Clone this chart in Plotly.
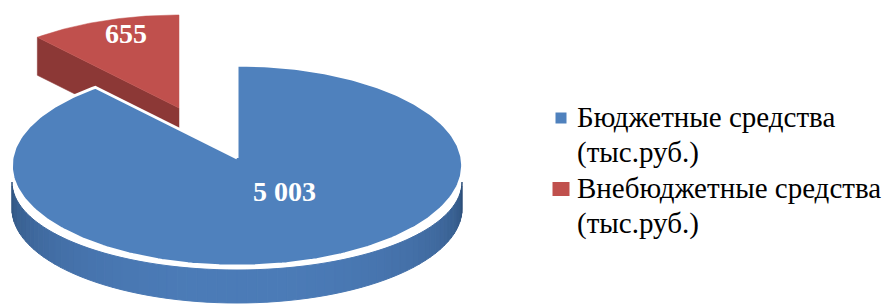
import numpy as np
import plotly.graph_objects as go

# ---- data ----
categories = ["Бюджетные средства (тыс.руб.)", "Внебюджетные средства (тыс.руб.)"]
legend_lines = [["Бюджетные средства", "(тыс.руб.)"], ["Внебюджетные средства", "(тыс.руб.)"]]
values = [5003, 655]
value_labels = ["5 003", "655"]

# ---- style / geometry (pixels) ----
W, H = 890, 304
CX, CY = 237, 158          # projected pie centre
RX, RY = 225, 100          # top face radii
PERSP = 0.075              # perspective factor
WALL_TOP_CY, WALL_TOP_RY = 182, 88
WALL_BOT_CY, WALL_BOT_RY = 209, 94
EXPLODE = (-58, -50)       # pixel offset of the exploded slice
SIDE_DEPTH = 38
BLUE = "#4f81bd"
RED = "#c0504d"
RED_DARK = "#8c3836"
WALL_DARK = np.array([0x2b, 0x4b, 0x74])
WALL_LIGHT = np.array([0x4c, 0x7c, 0xb8])
FONT = "Liberation Serif"


def proj(theta, dx=0.0, dy=0.0):
    u, v = np.cos(theta), np.sin(theta)
    w = 1 + PERSP * v
    return CX + dx + RX * u / w, CY + dy - RY * v / w


total = float(sum(values))
start = np.pi / 2
red_span = 2 * np.pi * values[1] / total
blue_a0 = start + red_span
blue_a1 = start + 2 * np.pi
red_a0, red_a1 = start, start + red_span

fig = go.Figure()


def poly(xs, ys, fill, line_color=None, line_width=0):
    fig.add_trace(go.Scatter(
        x=list(xs), y=list(ys), mode="lines", fill="toself", fillcolor=fill,
        line=dict(color=line_color or fill, width=line_width),
        hoverinfo="skip", showlegend=False))


# --- exploded red slice: cut face then top ---
ex, ey = EXPLODE
vx = CX + ex
vy = CY + ey
ox, oy = proj(red_a1, ex, ey)
poly([vx, ox, ox, vx, vx], [vy, oy, oy + SIDE_DEPTH, vy + SIDE_DEPTH, vy], RED_DARK, RED_DARK, 0.5)
t = np.linspace(red_a0, red_a1, 60)
px, py = proj(t, ex, ey)
poly(np.concatenate([[vx], px, [vx]]), np.concatenate([[vy], py, [vy]]), RED, RED, 0.5)

# --- blue side wall with gradient strips ---
N = 70
edges = np.linspace(np.pi, 2 * np.pi, N + 1)
for i in range(N):
    a, b = edges[i], edges[i + 1]
    tt = np.linspace(a, b, 4)
    xs = CX + RX * np.cos(tt)
    ytop = WALL_TOP_CY - WALL_TOP_RY * np.sin(tt)
    ybot = WALL_BOT_CY - WALL_BOT_RY * np.sin(tt)
    m = 0.5 * (a + b)
    f = np.sin(m - np.pi) ** 0.6
    c = WALL_DARK + (WALL_LIGHT - WALL_DARK) * f
    col = "rgb(%d,%d,%d)" % tuple(c.astype(int))
    poly(np.concatenate([xs, xs[::-1], [xs[0]]]),
         np.concatenate([ytop, ybot[::-1], [ytop[0]]]), col, col, 1)

# --- blue top face ---
t = np.linspace(blue_a0, blue_a1, 300)
px, py = proj(t)
poly(np.concatenate([[CX], px, [CX]]), np.concatenate([[CY], py, [CY]]), BLUE, "white", 3)

# --- value labels ---
lab_pos = [(284, 191), (126, 33)]
for txt, (x, y) in zip(value_labels, lab_pos):
    fig.add_annotation(x=x, y=y, text="<b>%s</b>" % txt, showarrow=False,
                       font=dict(family=FONT, size=28, color="white"),
                       xanchor="center", yanchor="middle")

# --- legend ---
leg_colors = [BLUE, RED]
leg_sizes = [(11, 11), (17, 14)]
leg_y = [117, 188]
for lines, col, (sw, sh), y0 in zip(legend_lines, leg_colors, leg_sizes, leg_y):
    fig.add_shape(type="rect", x0=561 - sw / 2, x1=561 + sw / 2, y0=y0 - sh / 2 + 1, y1=y0 + sh / 2 + 1,
                  fillcolor=col, line=dict(width=0), xref="x", yref="y")
    for j, ln in enumerate(lines):
        fig.add_annotation(x=575, y=y0 + 35 * j, text=ln, showarrow=False,
                           font=dict(family=FONT, size=29, color="black"),
                           xanchor="left", yanchor="middle")

fig.update_layout(
    width=W, height=H, margin=dict(l=0, r=0, t=0, b=0),
    paper_bgcolor="white", plot_bgcolor="white",
    xaxis=dict(range=[0, W], visible=False, fixedrange=True),
    yaxis=dict(range=[H, 0], visible=False, fixedrange=True),
    showlegend=False,
)
fig.write_html("out.html", config={"displayModeBar": False},
               post_script="document.body.style.margin='0';document.body.style.overflow='hidden';")
